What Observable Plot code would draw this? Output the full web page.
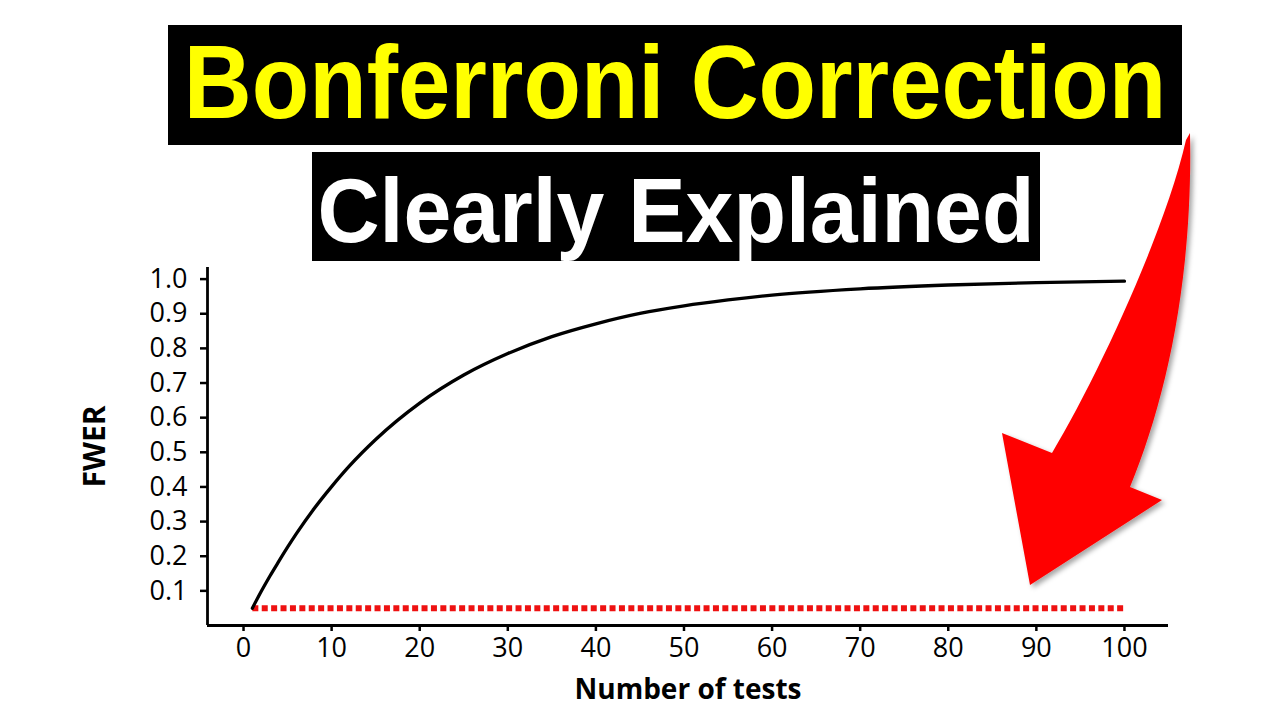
<!DOCTYPE html>
<html>
<head>
<meta charset="utf-8">
<script src="https://cdn.jsdelivr.net/npm/d3@7"></script>
<script src="https://cdn.jsdelivr.net/npm/@observablehq/plot@0.6"></script>
<style>
  html, body { margin: 0; padding: 0; background: #fff; }
  #stage { position: relative; width: 1280px; height: 720px; overflow: hidden; background: #fff; }
  #chart { position: absolute; left: 0; top: 0; }
  .box { position: absolute; background: #000; text-align: center; white-space: nowrap; overflow: visible;
         font-family: "Liberation Sans", Arial, sans-serif; font-weight: bold; }
  #t1 { left: 168px; top: 25px; width: 1014px; height: 120px; font-size: 95px; color: #ffff00; }
  #t1 span { display: block; line-height: 120px; transform: scale(0.99, 1.1); transform-origin: 50% 78%; }
  #t2 { left: 312px; top: 152px; width: 728px; height: 109px; font-size: 86px; color: #fff; }
  #t2 span { display: block; line-height: 121px; transform: scale(1, 1.06); transform-origin: 50% 72%; }
  #arrow { position: absolute; left: 0; top: 0; pointer-events: none; }
</style>
</head>
<body>
<div id="stage">
  <div id="chart"></div>
  <div class="box" id="t1"><span>Bonferroni Correction</span></div>
  <div class="box" id="t2"><span>Clearly Explained</span></div>
  <svg id="arrow" width="1280" height="720">
    <defs>
      <filter id="sh" x="-20%" y="-20%" width="140%" height="140%">
        <feDropShadow dx="3" dy="3" stdDeviation="2.5" flood-color="#000" flood-opacity="0.35"/>
      </filter>
    </defs>
    <path filter="url(#sh)" fill="#ff0000"
      d="M1190,133 C1193,280 1166,400 1130,487 L1162,500 L1030,585 L1002,433 L1052,453 C1097,378 1165,232 1186,140 Z"/>
  </svg>
</div>
<script>
// Number of tests vs family-wise error rate
const tests = [1, 2, 3, 4, 5, 6, 8, 10, 12, 15, 20, 25, 30, 35, 40, 45, 50, 55, 60, 70, 80, 90, 100];
const fwer  = [0.05, 0.098, 0.143, 0.185, 0.226, 0.265, 0.337, 0.401, 0.46, 0.537, 0.642, 0.723, 0.785, 0.834, 0.871, 0.901, 0.923, 0.94, 0.954, 0.972, 0.983, 0.99, 0.994];

// Bonferroni-corrected level (red dotted line)
const alphaTests = [1, 100];
const alphaLevel = [0.05, 0.05];

// Tick labels
const xTicks = [0, 10, 20, 30, 40, 50, 60, 70, 80, 90, 100];
const yTicks = [0.1, 0.2, 0.3, 0.4, 0.5, 0.6, 0.7, 0.8, 0.9, 1.0];

const curve = tests.map((t, i) => ({tests: t, fwer: fwer[i]}));
const alphaLine = alphaTests.map((t, i) => ({tests: t, fwer: alphaLevel[i]}));

const xDomain = [-4.09, 105.0];
const yDomain = [0, 1.0335];

const chart = Plot.plot({
  width: 1280,
  height: 720,
  marginLeft: 207,
  marginRight: 112,
  marginTop: 267,
  marginBottom: 95,
  style: {background: "transparent", fontFamily: "'Open Sans', Lato, sans-serif", color: "#000", overflow: "visible"},
  x: {domain: xDomain, ticks: xTicks},
  y: {domain: yDomain, ticks: yTicks},
  marks: [
    Plot.axisX({ticks: xTicks, tickSize: 6, tickPadding: 6, strokeWidth: 2.5, fontSize: 27, label: null}),
    Plot.axisY({ticks: yTicks, tickSize: 7, tickPadding: 13, strokeWidth: 2.5, fontSize: 27, label: null,
                tickFormat: d3.format(".1f")}),
    Plot.ruleX([xDomain[0]], {stroke: "#000", strokeWidth: 2.8}),
    Plot.ruleY([0], {stroke: "#000", strokeWidth: 2.8}),
    Plot.line(alphaLine, {x: "tests", y: "fwer", stroke: "#ee1111", strokeWidth: 6,
                          strokeDasharray: "6,3.4", strokeLinecap: "butt"}),
    Plot.line(curve, {x: "tests", y: "fwer", stroke: "#000", strokeWidth: 3.3, curve: "monotone-x"}),
    Plot.text(["Number of tests"], {frameAnchor: "bottom", textAnchor: "middle", lineAnchor: "middle", dy: 65,
                                    fontSize: 28, fontWeight: "bold", fill: "#000", letterSpacing: "1.3px"}),
    Plot.text(["FWER"], {frameAnchor: "left", textAnchor: "middle", lineAnchor: "middle", dx: -112, rotate: -90,
                         fontSize: 30, fontWeight: "bold", fill: "#000", letterSpacing: "3px"})
  ]
});
document.getElementById("chart").appendChild(chart);
</script>
</body>
</html>
